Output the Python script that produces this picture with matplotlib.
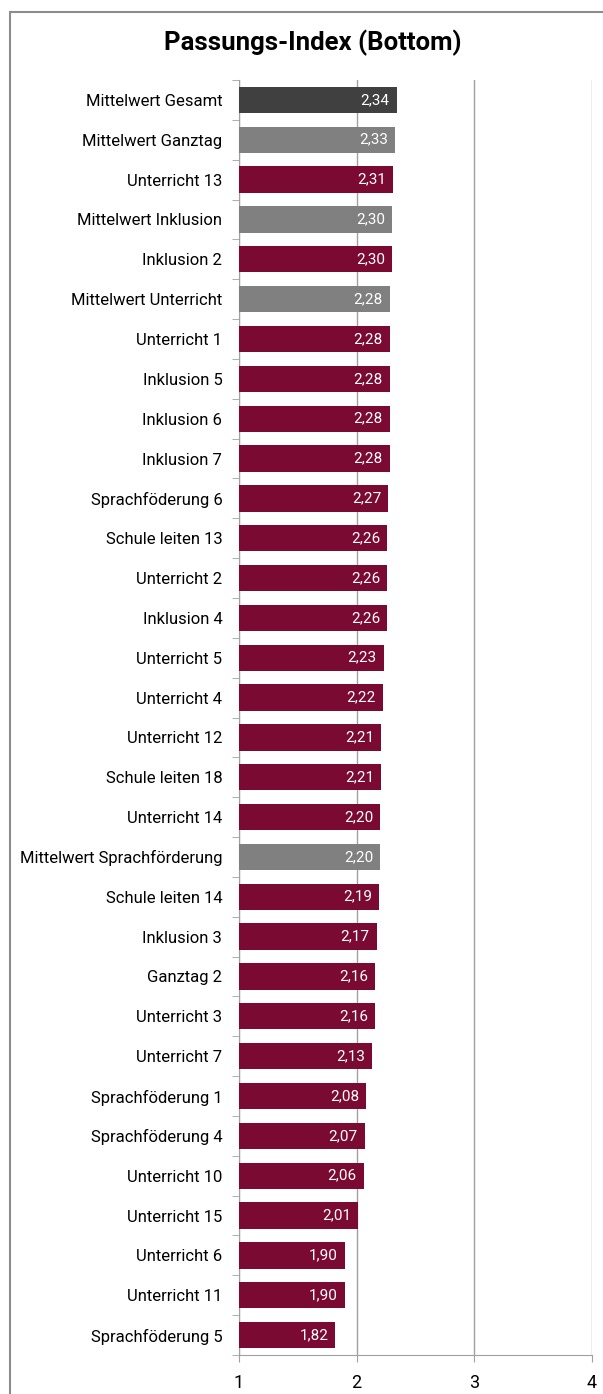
import matplotlib.pyplot as plt
import matplotlib.patches as patches
from matplotlib import font_manager
import numpy as np

labels = ["Mittelwert Gesamt", "Mittelwert Ganztag", "Unterricht 13", "Mittelwert Inklusion",
          "Inklusion 2", "Mittelwert Unterricht", "Unterricht 1", "Inklusion 5", "Inklusion 6",
          "Inklusion 7", "Sprachföderung 6", "Schule leiten 13", "Unterricht 2", "Inklusion 4",
          "Unterricht 5", "Unterricht 4", "Unterricht 12", "Schule leiten 18", "Unterricht 14",
          "Mittelwert Sprachförderung", "Schule leiten 14", "Inklusion 3", "Ganztag 2",
          "Unterricht 3", "Unterricht 7", "Sprachföderung 1", "Sprachföderung 4",
          "Unterricht 10", "Unterricht 15", "Unterricht 6", "Unterricht 11", "Sprachföderung 5"]
values = [2.34, 2.33, 2.31, 2.30, 2.30, 2.28, 2.28, 2.28, 2.28, 2.28, 2.27, 2.26, 2.26, 2.26,
          2.23, 2.22, 2.21, 2.21, 2.20, 2.20, 2.19, 2.17, 2.16, 2.16, 2.13, 2.08, 2.07, 2.06,
          2.01, 1.90, 1.90, 1.82]
kinds = ["total", "mean", "item", "mean", "item", "mean"] + ["item"] * 13 + ["mean"] + ["item"] * 12
colors = {"total": "#404040", "mean": "#808080", "item": "#7B0A32"}

names = [f.name for f in font_manager.fontManager.ttflist]
fam = "Liberation Sans Narrow" if "Liberation Sans Narrow" in names else "Roboto"
plt.rcParams['font.family'] = [fam, 'DejaVu Sans']

fig = plt.figure(figsize=(6.03, 13.94), dpi=100)
W, H = 603, 1394
ax = fig.add_axes([239 / W, 1 - 1355 / H, (592 - 239) / W, (1355 - 80) / H])

n = len(labels)
y = np.arange(n)
ax.barh(y, [v - 1 for v in values], left=1, height=0.66,
        color=[colors[k] for k in kinds], zorder=3)
for yi, v in zip(y, values):
    ax.text(v - 0.06, yi, f"{v:.2f}".replace(".", ","), color="white",
            ha="right", va="center", fontsize=11, zorder=4)

ax.set_xlim(1, 4)
ax.set_ylim(n - 0.5, -0.5)
ax.set_xticks([1, 2, 3, 4])
ax.set_xticklabels(["1", "2", "3", "4"], fontsize=13)
ax.set_yticks(y)
ax.set_yticklabels(labels, fontsize=12)
ax.set_yticks(np.arange(-0.5, n, 1), minor=True)
ax.tick_params(axis="y", which="major", length=0, pad=12)
ax.tick_params(axis="y", which="minor", length=5, color="#a0a0a0", direction="out")
ax.tick_params(axis="x", length=5, color="#a0a0a0", direction="out", pad=9)
ax.grid(axis="x", color="#a0a0a0", linewidth=1, zorder=0)
for s in ["top", "right"]:
    ax.spines[s].set_visible(False)
for s in ["left", "bottom"]:
    ax.spines[s].set_color("#a0a0a0")

fig.text(0.518, 1 - 43 / H, "Passungs-Index (Bottom)", ha="center", va="center",
         fontsize=18.5, fontweight="bold")

fig.patches.append(patches.Rectangle((10 / W, -0.1), 1.1, 1 - 12 / H + 0.1,
                                     transform=fig.transFigure, fill=False,
                                     edgecolor="#8c8c8c", linewidth=1.5))

fig.savefig("out.png", dpi=100)
